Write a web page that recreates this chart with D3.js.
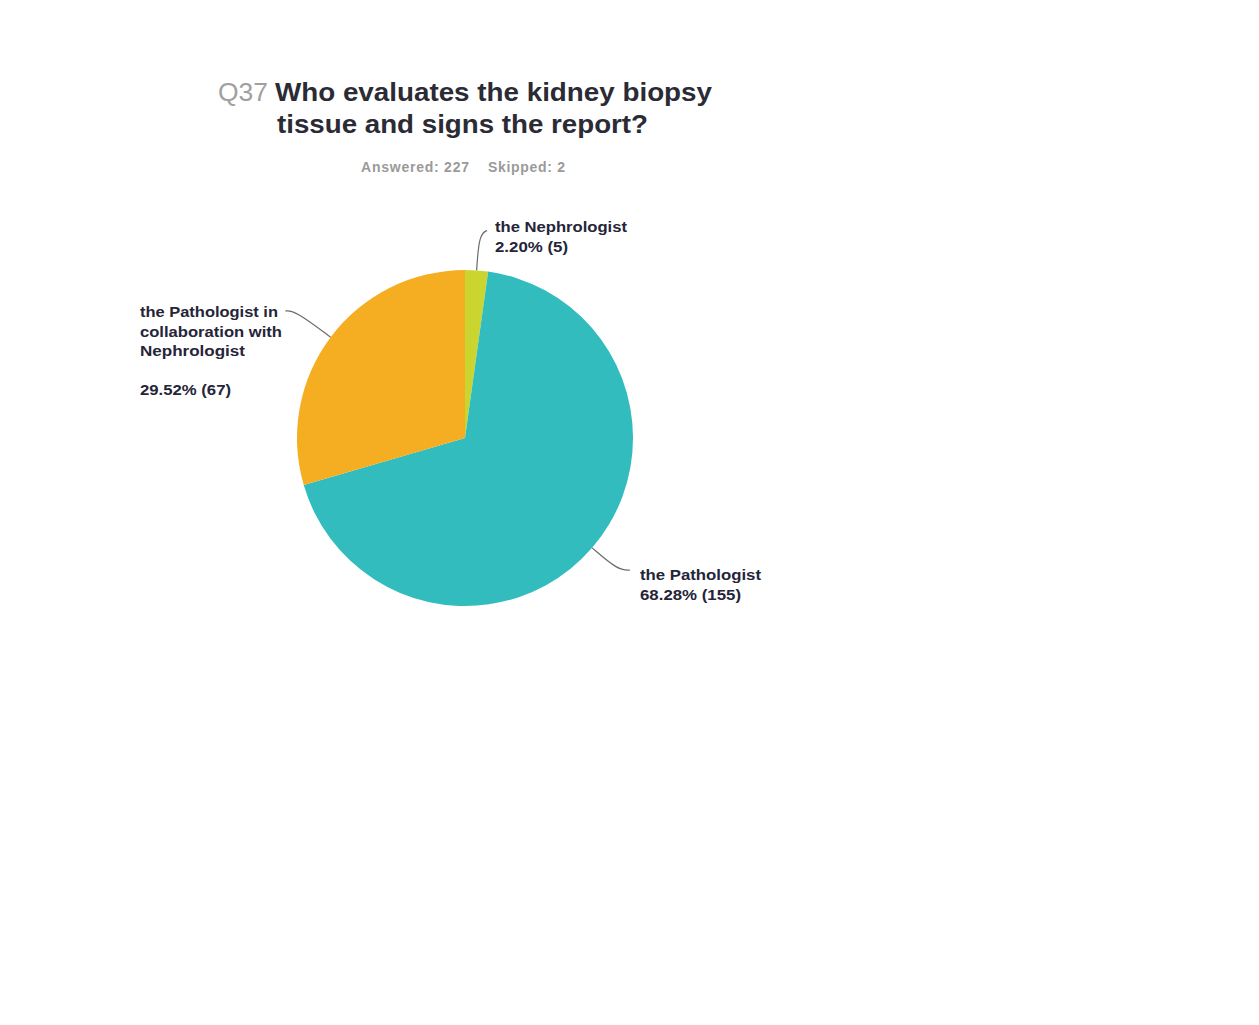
<!DOCTYPE html>
<html>
<head>
<meta charset="utf-8">
<script src="https://cdn.jsdelivr.net/npm/d3@7"></script>
<style>
  body { margin: 0; background: #fff; }
  svg { display: block; font-family: "Liberation Sans", Arial, sans-serif; }
</style>
</head>
<body>
<svg id="chart" width="1259" height="1025"></svg>
<script>
// DATA
var categories = ['the Nephrologist', 'the Pathologist', 'the Pathologist in collaboration with Nephrologist'];
var counts = [5, 155, 67];
var percents = ['2.20%', '68.28%', '29.52%'];
var colours = ['#cbd530', '#33bcbe', '#f5ae22'];
var answered = 227;
var skipped = 2;

// label text per slice, null = blank line
var label_lines = [
    ['the Nephrologist', percents[0] + ' (' + counts[0] + ')'],
    ['the Pathologist', percents[1] + ' (' + counts[1] + ')'],
    ['the Pathologist in', 'collaboration with', 'Nephrologist', null, percents[2] + ' (' + counts[2] + ')']
];
// widths of each line as drawn in the original export
var label_widths = [
    [132, 73],
    [121, 101],
    [138, 142, 105, 0, 91]
];

var svg = d3.select('svg#chart');
var cx = 465, cy = 438, r = 168;

// Title
var title = svg.append('g').attr('font-weight', 'bold').attr('font-size', 25);
var t1 = title.append('text').attr('y', 101);
t1.append('tspan').attr('x', 218).attr('fill', '#a0a0a0').attr('font-weight', 'normal')
    .attr('textLength', 50).attr('lengthAdjust', 'spacingAndGlyphs').text('Q37');
t1.append('tspan').attr('x', 275).attr('fill', '#2b2b35')
    .attr('textLength', 437).attr('lengthAdjust', 'spacingAndGlyphs').text('Who evaluates the kidney biopsy');
title.append('text').attr('x', 277).attr('y', 133).attr('fill', '#2b2b35')
    .attr('textLength', 371).attr('lengthAdjust', 'spacingAndGlyphs').text('tissue and signs the report?');

var sub = svg.append('g').attr('font-size', 14).attr('font-weight', 'bold').attr('fill', '#9a9a9a');
sub.append('text').attr('x', 361).attr('y', 172).attr('textLength', 108).text('Answered: ' + answered);
sub.append('text').attr('x', 488).attr('y', 172).attr('textLength', 77).text('Skipped: ' + skipped);

// PIE
var data = categories.map(function(c, i) { return { name: c, value: counts[i], i: i }; });
var pie = d3.pie().sort(null).value(function(d) { return d.value; });
var arcs = pie(data);
var arc = d3.arc().innerRadius(0).outerRadius(r);

var g = svg.append('g').attr('transform', 'translate(' + cx + ',' + cy + ')');
g.selectAll('path.slice')
    .data(arcs)
    .enter().append('path')
    .attr('class', 'slice')
    .attr('d', arc)
    .attr('fill', function(d) { return colours[d.data.i]; });

// leader lines + labels
var leader = [
    { out: 36, dx: 8, tx: 495, ty: 232 },
    { out: 34, dx: 12, tx: 640, ty: 580 },
    { out: 44, dx: -10, tx: 140, ty: 317 }
];
arcs.forEach(function(a) {
    var i = a.data.i;
    var mid = (a.startAngle + a.endAngle) / 2;
    var p0 = [Math.sin(mid) * r, -Math.cos(mid) * r];
    var p1 = [Math.sin(mid) * (r + leader[i].out), -Math.cos(mid) * (r + leader[i].out)];
    var p2 = [p1[0] + leader[i].dx, p1[1] - (i == 0 ? 4 : 0)];
    g.append('path')
        .attr('d', d3.line().curve(d3.curveBasis)([p0, p0, p1, p2]))
        .attr('fill', 'none')
        .attr('stroke', '#6b6b6b')
        .attr('stroke-width', 1.2);

    label_lines[i].forEach(function(s, k) {
        if ( s == null ) return;
        svg.append('text')
            .attr('x', leader[i].tx)
            .attr('y', leader[i].ty + k * 19.5)
            .attr('font-size', 14)
            .attr('font-weight', 'bold')
            .attr('fill', '#25253a')
            .attr('textLength', label_widths[i][k])
            .attr('lengthAdjust', 'spacingAndGlyphs')
            .text(s);
    });
});
</script>
</body>
</html>
